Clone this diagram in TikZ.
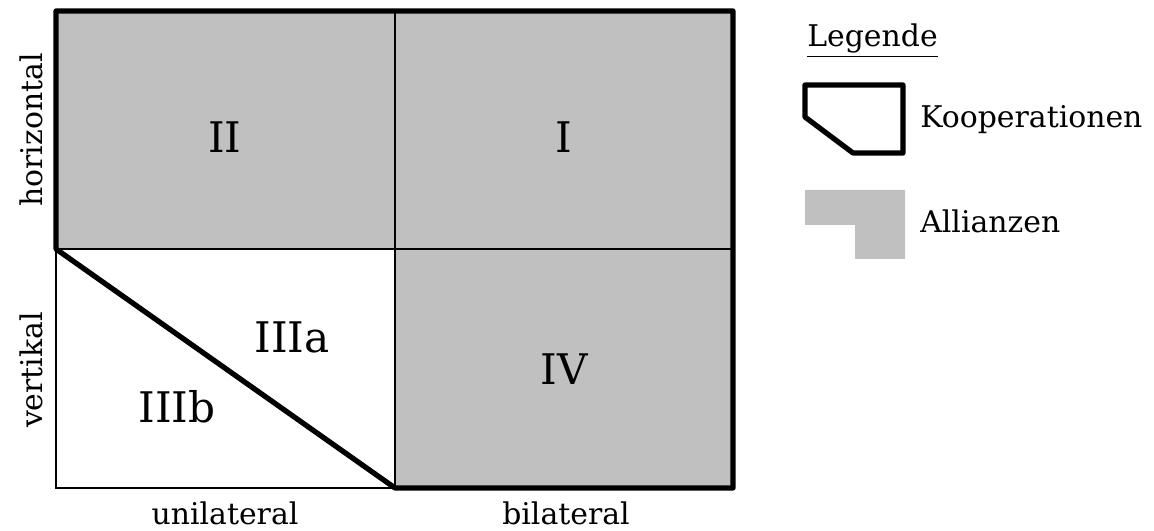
\documentclass[tikz,border=0pt]{standalone}
\usepackage{fontspec}
\setmainfont{DejaVu Serif}
\usetikzlibrary{positioning}
\definecolor{alliancegray}{RGB}{192,192,192}

\tikzset{
  thinline/.style={line width=1.1pt},
  thickline/.style={line width=3pt, line join=round},
  celltext/.style={font=\fontsize{24}{28}\selectfont},
  axistext/.style={font=\fontsize{17}{20}\selectfont},
}

\begin{document}
\begin{tikzpicture}
  \useasboundingbox (0,0) rectangle (23.08,10.62);
  % corners of the matrix
  \coordinate (tl) at (1.12,10.40);
  \coordinate (tm) at (7.90,10.40);
  \coordinate (tr) at (14.66,10.40);
  \coordinate (ml) at (1.12,5.64);
  \coordinate (mr) at (14.66,5.64);
  \coordinate (bl) at (1.12,0.86);
  \coordinate (bm) at (7.90,0.86);
  \coordinate (br) at (14.66,0.86);
  % gray cells
  \fill [alliancegray] (ml) rectangle (tr);
  \fill [alliancegray] (bm) rectangle (mr);
  % thin grid
  \draw [thinline] (tl) rectangle (br);
  \draw [thinline] (ml) -- (mr);
  \draw [thinline] (tm) -- (bm);
  % thick border
  \draw [thickline] (ml) -- (tl) -- (tr) -- (br) -- (bm) -- cycle;
  % cell labels
  \node [celltext] (c2) at (4.50,7.88) {II};
  \node [celltext] (c1) at (11.28,7.88) {I};
  \node [celltext] (c3a) at (5.84,3.88) {IIIa};
  \node [celltext] (c3b) at (3.54,2.48) {IIIb};
  \node [celltext] (c4) at (11.28,3.24) {IV};
  % axes
  \node [axistext, anchor=base, inner sep=0pt] (uni) at (4.50,0.13) {unilateral};
  \node [axistext, anchor=base, inner sep=0pt] (bi) at (11.32,0.13) {bilateral};
  \node [axistext, anchor=base, rotate=90, inner sep=0pt] (hor) at (0.86,8.02) {horizontal};
  \node [axistext, anchor=base, rotate=90, inner sep=0pt] (ver) at (0.86,3.22) {vertikal};
  % legend
  \node [axistext, anchor=base west, inner sep=0pt] (leg) at (16.14,9.68) {\underline{Legende}};
  \draw [thickline] (16.10,8.92) -- (18.06,8.92) -- (18.06,7.56) -- (17.06,7.56) -- (16.10,8.28) -- cycle;
  \node [axistext, anchor=base west, inner sep=0pt] (koop) at (18.40,8.06) {Kooperationen};
  \fill [alliancegray] (16.10,6.82) -- (18.10,6.82) -- (18.10,5.44) -- (17.10,5.44) -- (17.10,6.12) -- (16.10,6.12) -- cycle;
  \node [axistext, anchor=base west, inner sep=0pt] (alli) at (18.40,5.96) {Allianzen};
\end{tikzpicture}
\end{document}
